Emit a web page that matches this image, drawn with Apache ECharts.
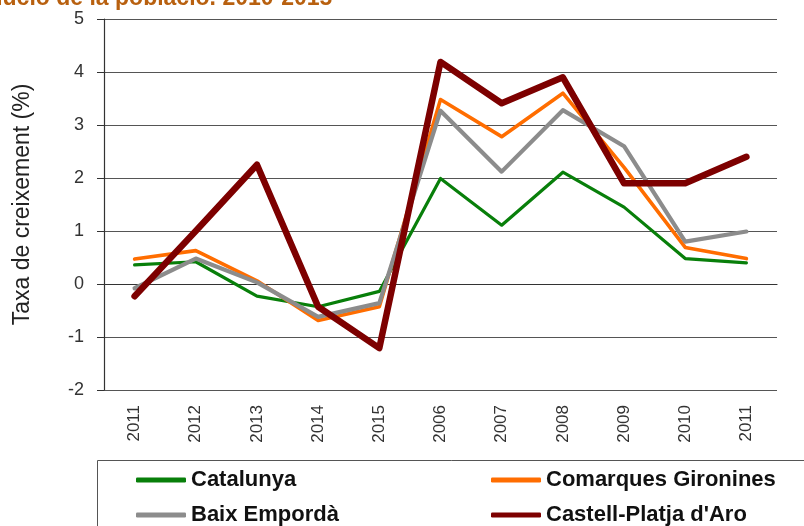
<!DOCTYPE html>
<html>
<head>
<meta charset="utf-8">
<script src="https://cdn.jsdelivr.net/npm/echarts@6/dist/echarts.min.js"></script>
<style>
  html, body { margin: 0; padding: 0; background: #fff; }
  #chart { width: 804px; height: 526px; }
</style>
</head>
<body>
<div id="chart"></div>
<script>
const years = ['2011', '2012', '2013', '2014', '2015', '2006', '2007', '2008', '2009', '2010', '2011']
const catalunya = [0.36, 0.42, -0.23, -0.43, -0.14, 1.99, 1.11, 2.11, 1.45, 0.48, 0.4]
const comarques = [0.47, 0.63, 0.06, -0.69, -0.43, 3.48, 2.78, 3.6, 2.2, 0.69, 0.48]
const baix = [-0.08, 0.48, 0.03, -0.62, -0.36, 3.27, 2.12, 3.28, 2.6, 0.8, 0.99]
const castell = [-0.23, 1.0, 2.25, -0.43, -1.21, 4.19, 3.41, 3.9, 1.9, 1.9, 2.4]

const chart = echarts.init(document.getElementById('chart'))

const font = 'Arial, "Liberation Sans", sans-serif'

const mkSeries = (name, data, color, width) => ({
  name,
  type: 'line',
  data,
  symbol: 'none',
  smooth: false,
  lineStyle: { color, width, cap: 'round', join: 'round' },
  itemStyle: { color },
  z: 3
})

// one legend per entry so they sit in a 2x2 layout like the original
const mkLegend = (name, left, top) => ({
  data: [name],
  left,
  top,
  itemWidth: 50,
  itemHeight: 5,
  icon: 'roundRect',
  textStyle: { fontFamily: font, fontWeight: 'bold', fontSize: 22, color: '#111' }
})

chart.setOption({
  animation: false,
  grid: { left: 104, right: 27, top: 19, bottom: 136 },
  graphic: [
    {
      type: 'text',
      left: -46,
      top: -13,
      style: {
        text: 'Evolució de la població. 2010-2015',
        fill: '#b8600f',
        font: 'bold 23px ' + font
      }
    },
    {
      type: 'rect',
      shape: { x: 97.5, y: 460.5, width: 720, height: 100 },
      style: { fill: 'none', stroke: '#555', lineWidth: 1 },
      z: -1
    }
  ],
  legend: [
    mkLegend('Catalunya', 131, 464),
    mkLegend('Baix Empordà', 131, 499),
    mkLegend('Comarques Gironines', 486, 464),
    mkLegend("Castell-Platja d'Aro", 486, 499)
  ],
  xAxis: {
    type: 'category',
    data: years,
    boundaryGap: true,
    axisLine: { lineStyle: { color: '#333', width: 1.2 } },
    axisTick: { length: 6, lineStyle: { color: '#333' } },
    axisLabel: { rotate: 90, fontFamily: font, fontSize: 17, color: '#333', margin: 15 }
  },
  yAxis: {
    type: 'value',
    min: -2,
    max: 5,
    interval: 1,
    name: 'Taxa de creixement (%)',
    nameLocation: 'middle',
    nameGap: 70,
    nameTextStyle: { fontFamily: font, fontSize: 23, color: '#222' },
    axisLine: { show: true, lineStyle: { color: '#333', width: 1.2 } },
    axisTick: { show: true, length: 7, lineStyle: { color: '#333' } },
    axisLabel: { fontFamily: font, fontSize: 18, color: '#333', margin: 20 },
    splitLine: { lineStyle: { color: '#555', width: 1.2 } }
  },
  series: [
    mkSeries('Catalunya', catalunya, '#087f0a', 3.2),
    mkSeries('Comarques Gironines', comarques, '#ff6d00', 3.6),
    mkSeries('Baix Empordà', baix, '#8c8c8c', 4.2),
    mkSeries("Castell-Platja d'Aro", castell, '#7d0000', 6.5)
  ]
})
</script>
</body>
</html>
